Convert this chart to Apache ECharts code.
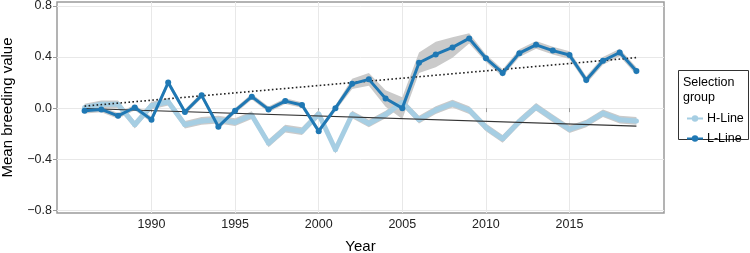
<!DOCTYPE html>
<html>
<head>
<meta charset="utf-8">
<script src="https://cdn.jsdelivr.net/npm/echarts@6/dist/echarts.min.js"></script>
<style>html,body{margin:0;padding:0;background:#fff}#c{width:750px;height:253px}</style>
</head>
<body>
<div id="c"></div>
<script>
const years = [1986,1987,1988,1989,1990,1991,1992,1993,1994,1995,1996,1997,1998,1999,2000,2001,2002,2003,2004,2005,2006,2007,2008,2009,2010,2011,2012,2013,2014,2015,2016,2017,2018,2019];
const lLine = [-0.02,-0.01,-0.06,0.005,-0.09,0.20,-0.03,0.10,-0.145,-0.02,0.09,-0.01,0.055,0.025,-0.18,0.0,0.19,0.225,0.075,0.0,0.355,0.42,0.475,0.545,0.39,0.275,0.43,0.495,0.45,0.415,0.22,0.37,0.435,0.29];
const hLine = [0.005,0.03,0.03,-0.13,0.02,0.05,-0.13,-0.10,-0.09,-0.11,-0.055,-0.275,-0.16,-0.18,-0.045,-0.325,-0.05,-0.12,-0.05,0.045,-0.09,-0.015,0.035,-0.015,-0.15,-0.24,-0.105,0.01,-0.08,-0.165,-0.12,-0.04,-0.09,-0.10];
const lBand = [0.022,0.022,0.022,0.022,0.022,0.022,0.022,0.022,0.022,0.022,0.022,0.022,0.022,0.022,0.022,0.022,0.04,0.05,0.065,0.085,0.08,0.1,0.08,0.04,0.03,0.03,0.03,0.03,0.03,0.03,0.03,0.03,0.03,0.03];
const hBand = [0.03,0.03,0.03,0.03,0.03,0.03,0.03,0.03,0.03,0.03,0.03,0.03,0.03,0.03,0.03,0.03,0.03,0.03,0.03,0.03,0.03,0.03,0.03,0.03,0.03,0.03,0.03,0.03,0.03,0.03,0.03,0.03,0.03,0.03];
const trendYears = [1986, 2019];
const trendL = [0.016, 0.395];
const trendH = [-0.003, -0.141];
const xTicks = [1990,1995,2000,2005,2010,2015];
const yTicks = [-0.8,-0.4,0.0,0.4,0.8];

const FONT = 'Liberation Sans, Arial, Helvetica, sans-serif';
const LIGHT = '#a6cee3', DARK = '#1f78b4';
const pairs = (xs, ys) => xs.map((x, i) => [x, ys[i]]);

function band(name, vals, b) {
  const data = years.map((y, i) => [y, vals[i] - b[i], vals[i] + b[i]]);
  return {
    name: name, type: 'custom', data: data, silent: true, z: 1,
    encode: {x: 0, y: [1, 2]},
    renderItem: function (params, api) {
      if (params.dataIndex !== 0) return null;
      const top = data.map(d => api.coord([d[0], d[2]]));
      const bot = data.slice().reverse().map(d => api.coord([d[0], d[1]]));
      return {type: 'polygon', shape: {points: top.concat(bot)}, style: {fill: '#cacaca', stroke: null}};
    }
  };
}

const chart = echarts.init(document.getElementById('c'));
chart.setOption({
  animation: false,
  grid: {left: 57, right: 86, top: 2, bottom: 40, outerBoundsMode: 'none', containLabel: false,
    show: true, borderColor: '#9a9a9a', borderWidth: 1.5, backgroundColor: '#fff'},
  xAxis: {
    type: 'value', min: 1984.35, max: 2020.65,
    name: 'Year', nameLocation: 'middle', nameGap: 26,
    nameTextStyle: {fontFamily: FONT, fontSize: 15, color: '#000'},
    axisLine: {show: false},
    axisTick: {show: true, length: 4, lineStyle: {color: '#9a9a9a'}, customValues: xTicks},
    axisLabel: {customValues: xTicks, fontFamily: FONT, fontSize: 12.5, color: '#222', margin: 5, formatter: v => String(v)},
    splitLine: {show: true, lineStyle: {color: '#e8e8e8', width: 1}}
  },
  yAxis: {
    type: 'value', min: -0.82, max: 0.83,
    name: 'Mean breeding value', nameLocation: 'middle', nameGap: 42, nameRotate: 90,
    nameTextStyle: {fontFamily: FONT, fontSize: 15, color: '#000'},
    axisLine: {show: false},
    axisTick: {show: true, length: 4, lineStyle: {color: '#9a9a9a'}, customValues: yTicks},
    axisLabel: {customValues: yTicks, fontFamily: FONT, fontSize: 12.5, color: '#222', margin: 5,
      formatter: v => (v < -1e-9 ? '\u2212' : '') + Math.abs(v).toFixed(1)},
    splitLine: {show: true, lineStyle: {color: '#e8e8e8', width: 1}}
  },
  legend: {
    data: ['H-Line', 'L-Line'], orient: 'vertical', left: 681, top: 107,
    itemWidth: 16, itemHeight: 8, itemGap: 7,
    textStyle: {fontFamily: FONT, fontSize: 12.5, color: '#000', padding: [0, 0, 0, -1]}
  },
  graphic: [
    {type: 'rect', left: 676, top: 68, shape: {width: 70, height: 69}, style: {fill: 'none', stroke: '#333', lineWidth: 1}},
    {type: 'text', left: 683, top: 75, style: {text: 'Selection\ngroup', font: '12.5px ' + FONT, fill: '#000', lineHeight: 15}}
  ],
  series: [
    band('Hband', hLine, hBand),
    band('Lband', lLine, lBand),
    {name: 'H-Line', type: 'line', data: pairs(years, hLine), symbol: 'circle', symbolSize: 5, showSymbol: true,
      lineStyle: {color: LIGHT, width: 5}, itemStyle: {color: LIGHT}, z: 3},
    {name: 'trendH', type: 'line', data: pairs(trendYears, trendH), symbol: 'none', lineStyle: {color: '#333', width: 1.1}, z: 4},
    {name: 'trendL', type: 'line', data: pairs(trendYears, trendL), symbol: 'none', lineStyle: {color: '#222', width: 1.6, type: [1.6, 2.4]}, z: 4},
    {name: 'L-Line', type: 'line', data: pairs(years, lLine), symbol: 'circle', symbolSize: 6, showSymbol: true,
      lineStyle: {color: DARK, width: 3}, itemStyle: {color: DARK}, z: 5}
  ]
});
</script>
</body>
</html>
